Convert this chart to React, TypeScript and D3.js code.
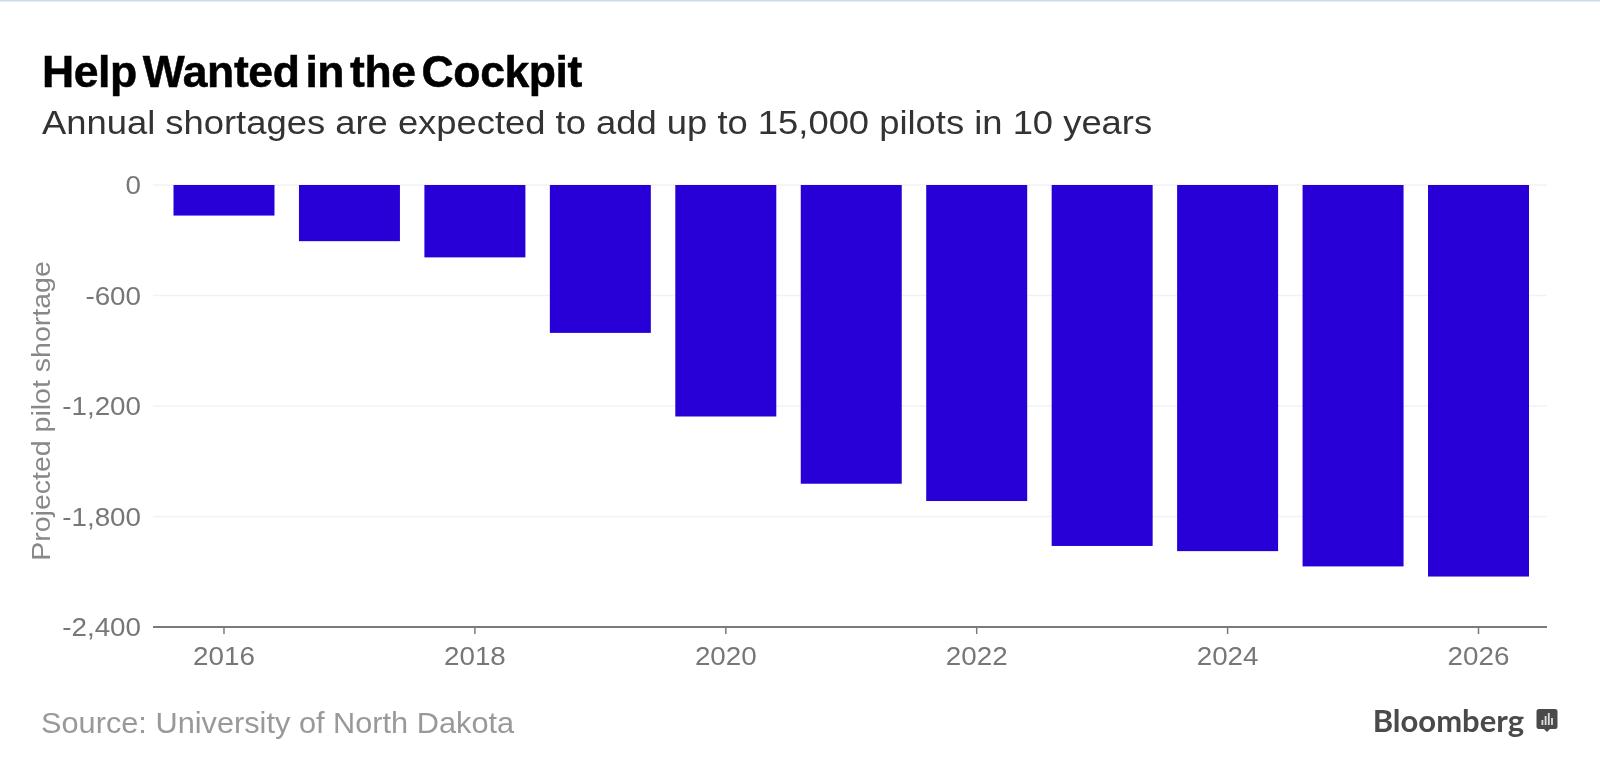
import React from "react";
import * as d3 from "d3";

const years = [2016, 2017, 2018, 2019, 2020, 2021, 2022, 2023, 2024, 2025, 2026];
const shortage = [-166, -305, -393, -803, -1257, -1622, -1716, -1960, -1988, -2071, -2126];
const yTicks = [0, -600, -1200, -1800, -2400];
const xTickYears = [2016, 2018, 2020, 2022, 2024, 2026];
const titleText = "Help Wanted in the Cockpit";
const subtitleText = "Annual shortages are expected to add up to 15,000 pilots in 10 years";
const yAxisLabel = "Projected pilot shortage";
const sourceText = "Source: University of North Dakota";
const brandText = "Bloomberg";
const iconBars = [5, 9, 12, 7];

const W = 1600;
const H = 780;
const SANS = "'Liberation Sans', Arial, sans-serif";

export default function App() {
  const y = d3.scaleLinear().domain([0, -2400]).range([185, 627]);
  const x = d3.scaleBand<number>().domain(years).range([173.5, 1529]).paddingInner(0.195).paddingOuter(0);
  const fmt = d3.format(",");
  const cx = (yr: number) => (x(yr) as number) + x.bandwidth() / 2;

  return (
    <svg width={W} height={H} style={{ position: "absolute", left: 0, top: 0, background: "#fff", filter: "blur(0.6px)" }}>
      <rect x={0} y={0} width={W} height={1.5} fill="#cfdbe6" />
      <text x={42} y={87} fontFamily={SANS} fontWeight={700} fontSize={44.5} fill="#000" stroke="#000" strokeWidth={0.5} wordSpacing={-6} letterSpacing={-0.4}>{titleText}</text>
      <text transform="translate(42,134) scale(1.07,1)" fontFamily={SANS} fontSize={34} fill="#333">{subtitleText}</text>

      {yTicks.slice(0, -1).map((t) => (
        <line key={t} x1={153} x2={1547} y1={y(t)} y2={y(t)} stroke="#f1f2f4" strokeWidth={1.5} />
      ))}
      {years.map((yr, i) => (
        <rect key={yr} x={x(yr)} y={y(0)} width={x.bandwidth()} height={y(shortage[i]) - y(0)} fill="#2800d7" />
      ))}
      <line x1={153} x2={1547} y1={y(-2400)} y2={y(-2400)} stroke="#7a7a7a" strokeWidth={2} />
      {xTickYears.map((yr) => (
        <g key={yr}>
          <line x1={cx(yr)} x2={cx(yr)} y1={y(-2400)} y2={y(-2400) + 7} stroke="#7a7a7a" strokeWidth={1.5} />
          <text transform={`translate(${cx(yr)},664.5) scale(1.09,1)`} textAnchor="middle" fontFamily={SANS} fontSize={25.5} fill="#777">{yr}</text>
        </g>
      ))}
      {yTicks.map((t) => (
        <text key={t} transform={`translate(141,${y(t) + 9}) scale(1.09,1)`} textAnchor="end" fontFamily={SANS} fontSize={25.5} fill="#777">{fmt(t).replace("−", "-")}</text>
      ))}
      <text transform="translate(50,411) rotate(-90) scale(1.097,1)" textAnchor="middle" fontFamily={SANS} fontSize={26} fill="#888">{yAxisLabel}</text>
      <text transform="translate(41,733) scale(1.06,1)" fontFamily={SANS} fontSize={29} fill="#999">{sourceText}</text>
      <text x={1524} y={732} textAnchor="end" fontFamily="Lato, 'Noto Sans', sans-serif" fontWeight={700} fontSize={31} fill="#4a4a4a">{brandText}</text>
      <path d="M1539 709h16a2.5 2.5 0 0 1 2.5 2.5v15a2.5 2.5 0 0 1 -2.5 2.5h-5l-3 3l-3 -3h-5a2.5 2.5 0 0 1 -2.5 -2.5v-15a2.5 2.5 0 0 1 2.5 -2.5z" fill="#4a4a4a" />
      {iconBars.map((h, i) => (
        <rect key={i} x={1541.5 + i * 3.2} y={725 - h} width={1.8} height={h} fill="#ddd" />
      ))}
    </svg>
  );
}
